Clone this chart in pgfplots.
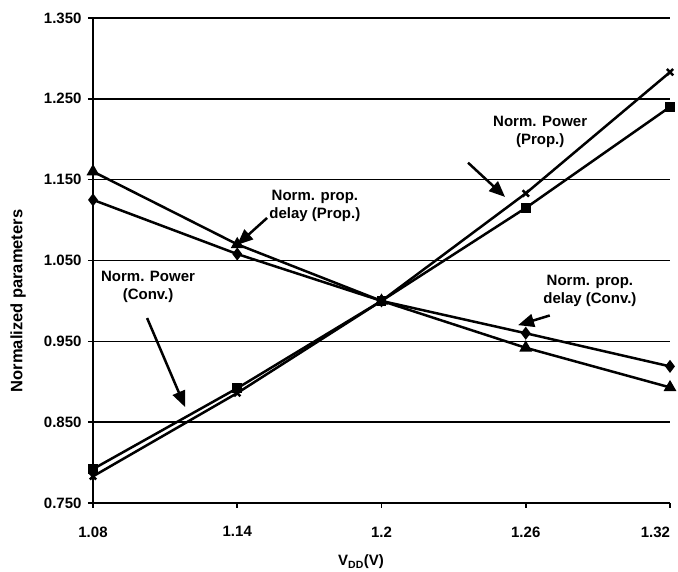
\documentclass[border=0pt]{standalone}
\usepackage{fontspec}
\setmainfont{Liberation Sans}
\usepackage{pgfplots}
\pgfplotsset{compat=1.18}
\usetikzlibrary{arrows.meta}

\begin{document}
\begin{tikzpicture}[x=1pt,y=1pt]
\begin{axis}[
  at={(0,0)}, anchor=south west,
  scale only axis, width=577pt, height=485pt,
  xmin=1.08, xmax=1.32, ymin=0.75, ymax=1.35,
  clip=false,
  xtick={1.08,1.14,1.2,1.26,1.32},
  xticklabels={1.08,1.14,1.2,1.26,\makebox[0pt][r]{1.32}},
  ytick={0.75,0.85,0.95,1.05,1.15,1.25,1.35},
  yticklabel style={/pgf/number format/fixed, /pgf/number format/fixed zerofill,
    /pgf/number format/precision=3, /pgf/number format/assume math mode=true, xshift=-3pt},
  ticklabel style={font=\fontsize{15}{18}\selectfont\bfseries},
  xticklabel style={yshift=-15pt},
  axis x line*=bottom, axis y line*=left,
  axis line style={black, line width=2pt},
  ymajorgrids, grid style={black, line width=1.5pt},
  tick style={black, line width=1.5pt},
  tick align=outside, major tick length=5pt,
  xlabel={V\textsubscript{DD}(V)},
  ylabel={Normalized parameters},
  xlabel style={font=\fontsize{15}{18}\selectfont\bfseries, at={(rel axis cs:0.4645,-0.1216)}, anchor=center},
  ylabel style={font=\fontsize{16.5}{19}\selectfont\bfseries, at={(rel axis cs:-0.130,0.4165)}, anchor=center},
  every axis plot/.append style={black, line width=2.5pt, mark options={solid}},
]
% delay, proposed
\addplot[mark=triangle*, mark size=5pt] coordinates {(1.08,1.160)(1.14,1.070)(1.2,1.000)(1.26,0.942)(1.32,0.893)};
% delay, conventional
\addplot[mark=diamond*, mark size=4.5pt] coordinates {(1.08,1.125)(1.14,1.058)(1.2,1.000)(1.26,0.960)(1.32,0.919)};
% power, proposed
\addplot[mark=x, mark size=4.5pt] coordinates {(1.08,0.783)(1.14,0.886)(1.2,1.000)(1.26,1.133)(1.32,1.283)};
% power, conventional
\addplot[mark=square*, mark size=3.5pt] coordinates {(1.08,0.792)(1.14,0.892)(1.2,1.000)(1.26,1.115)(1.32,1.240)};

\tikzset{lbl/.style={font=\fontsize{15}{18}\selectfont\bfseries, align=center},
         arr/.style={-{Triangle[length=16pt,width=13pt]}, line width=2.5pt}}
\node[lbl] at (axis cs:1.266,1.209) {Norm. Power\\(Prop.)};
\draw[arr] (axis cs:1.236,1.171) -- (axis cs:1.2514,1.1286);
\node[lbl] at (axis cs:1.1723,1.1174) {Norm. prop.\\delay (Prop.)};
\draw[arr] (axis cs:1.1524,1.1026) -- (axis cs:1.1399,1.0692);
\node[lbl] at (axis cs:1.1029,1.0172) {Norm. Power\\(Conv.)};
\draw[arr] (axis cs:1.1025,0.9788) -- (axis cs:1.1183,0.8687);
\node[lbl] at (axis cs:1.2867,1.0122) {Norm. prop.\\delay (Conv.)};
\draw[arr] (axis cs:1.270,0.982) -- (axis cs:1.2568,0.970);
\end{axis}
\pgfresetboundingbox
\path (-93,-69) rectangle (585,503);
\end{tikzpicture}
\end{document}
